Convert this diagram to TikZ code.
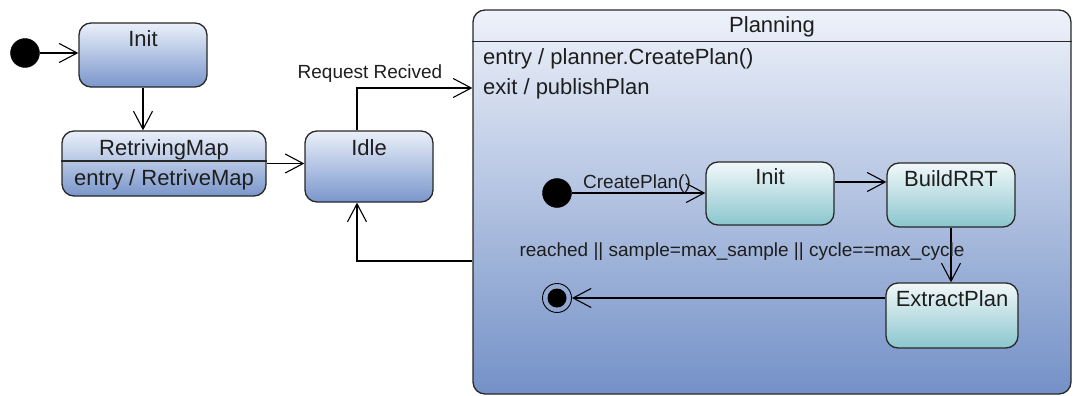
\documentclass[tikz,border=0pt]{standalone}
\usepackage{fontspec}
\setmainfont{Liberation Sans}
\usetikzlibrary{arrows.meta}

\definecolor{edge}{RGB}{40,40,40}
\definecolor{ink}{RGB}{30,30,30}
\definecolor{blueTop}{RGB}{234,240,250}
\definecolor{blueBot}{RGB}{122,150,203}
\definecolor{planTop}{RGB}{238,242,250}
\definecolor{planBot}{RGB}{116,145,199}
\definecolor{tealTop}{RGB}{242,248,249}
\definecolor{tealBot}{RGB}{138,198,206}

\tikzset{
  statebox/.style={draw=edge, line width=1.3pt, rounded corners=12pt,
    top color=blueTop, bottom color=blueBot, inner sep=0pt},
  substate/.style={draw=edge, line width=1.3pt, rounded corners=12pt,
    top color=tealTop, bottom color=tealBot, inner sep=0pt},
  composite/.style={draw=edge, line width=1.3pt, rounded corners=12pt,
    top color=planTop, bottom color=planBot, inner sep=0pt},
  sname/.style={anchor=base, inner sep=0pt, text=ink,
    font=\fontsize{22}{26}\selectfont},
  activity/.style={anchor=base west, inner sep=0pt, text=ink,
    font=\fontsize{22}{26}\selectfont},
  trlabel/.style={anchor=base, inner sep=0pt, text=ink,
    font=\fontsize{19}{22}\selectfont},
  initdot/.style={circle, fill=black, draw=black, minimum size=29pt, inner sep=0pt},
  finaldot/.style={circle, draw=black, line width=0.9pt, minimum size=29pt, inner sep=0pt},
  tr/.style={draw=black, line width=1.1pt,
    -{Straight Barb[length=18pt, width=19pt, line width=1.1pt]}},
}

\begin{document}
\begin{tikzpicture}[x=1pt, y=-1pt]
\useasboundingbox (0,0) rectangle (1073,396);

% top-level states
\node[initdot] (start) at (25,53) {};
\node[statebox, minimum width=128pt, minimum height=64pt] (init) at (143,55) {};
\node[sname] at (143,47) {Init};

\node[statebox, minimum width=204pt, minimum height=65pt] (rmap) at (164,163.5) {};
\draw[draw=edge, line width=1.3pt] ([yshift=2.5pt]rmap.west) -- ([yshift=2.5pt]rmap.east);
\node[sname] at (164,155) {RetrivingMap};
\node[sname] at (164,185) {entry / RetriveMap};

\node[statebox, minimum width=128pt, minimum height=71pt] (idle) at (369,166.5) {};
\node[sname] at (369,155) {Idle};

% composite state
\node[composite, minimum width=598pt, minimum height=384pt] (plan) at (772,202) {};
\draw[draw=edge, line width=1.3pt] ([yshift=-32pt]plan.north west) -- ([yshift=-32pt]plan.north east);
\node[sname] at (772,33) {Planning};
\node[activity] at (483,64) {entry / planner.CreatePlan()};
\node[activity] at (483,94) {exit / publishPlan};

% nested states
\node[initdot] (pstart) at (557,193) {};
\node[substate, minimum width=128pt, minimum height=63pt] (pinit) at (770,193.5) {};
\node[sname] at (770,184) {Init};

\node[substate, minimum width=128pt, minimum height=64pt] (build) at (951,195) {};
\node[sname] at (951,186) {BuildRRT};

\node[substate, minimum width=132pt, minimum height=65pt] (extract) at (952,315.5) {};
\node[sname] at (952,306) {ExtractPlan};

\node[finaldot] (pfinal) at (557,298) {};
\fill[black] (pfinal) circle[radius=9.5pt];

% helper rows for orthogonal connectors
\coordinate (reqRow) at (0,88);
\coordinate (backRow) at (0,261);
\coordinate (buildRow) at (0,182);

% transitions
\draw[tr] (start) -- (init.west |- start);
\draw[tr] (init.south) -- (init.south |- rmap.north);
\draw[tr] (rmap.east) -- (idle.west |- rmap.east);
\draw[tr] ([xshift=-12pt]idle.north) |- (plan.west |- reqRow);
\node[trlabel] at (370,78) {Request Recived};
\draw[tr] (plan.west |- backRow) -| ([xshift=-12pt]idle.south);

\draw[tr] (pstart) -- (pinit.west |- pstart);
\node[trlabel] at (637,188) {CreatePlan()};
\draw[tr] (pinit.east |- buildRow) -- (build.west |- buildRow);
\draw[tr] (build.south) -- (build.south |- extract.north);
\node[trlabel] at (742,256) {reached || sample=max\_sample || cycle==max\_cycle};
\draw[tr] (extract.west |- pfinal) -- (pfinal);
\end{tikzpicture}
\end{document}
